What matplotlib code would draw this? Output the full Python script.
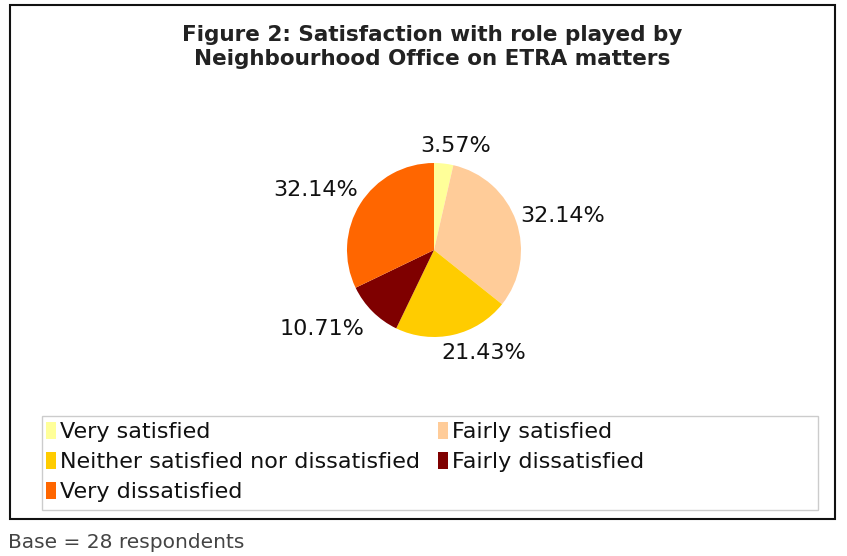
import matplotlib
matplotlib.use("Agg")
import matplotlib.pyplot as plt
from matplotlib.patches import Rectangle, Patch
import numpy as np

categories = ["Very satisfied", "Fairly satisfied", "Neither satisfied nor dissatisfied",
              "Fairly dissatisfied", "Very dissatisfied"]
shares = [3.57, 32.14, 21.43, 10.71, 32.14]
colors = ["#FFFF99", "#FFCC99", "#FFCC00", "#7F0000", "#FF6600"]
title = "Figure 2: Satisfaction with role played by\nNeighbourhood Office on ETRA matters"
base_note = "Base = 28 respondents"

W, H = 847, 556
fig = plt.figure(figsize=(W / 100, H / 100), dpi=100)
ax = fig.add_axes([0, 0, 1, 1])

def yy(y):
    return H - y

# pie
cx, cy, r = 434, yy(250), 87
wedges, _ = ax.pie(shares, colors=colors, startangle=90, counterclock=False,
                   center=(cx, cy), radius=r, frame=True)
ax.set_xlim(0, W)
ax.set_ylim(0, H)
ax.set_aspect("equal")
ax.axis("off")

# outer frame
ax.add_patch(Rectangle((10, yy(519)), 825, 514, fill=False, edgecolor="#111111", lw=1.5))

# title
ax.text(432, yy(47), title, ha="center", va="center", fontsize=15.5, fontweight="bold",
        color="#222222", linespacing=1.22)

# percentage labels: placed outside each wedge, nudged sideways to clear the rim
label_nudge = [(10, 0), (30, 0), (27, -1), (-38, -5), (-30, 4)]
for w, v, (nx, ny) in zip(wedges, shares, label_nudge):
    ang = np.deg2rad((w.theta1 + w.theta2) / 2)
    x = cx + 1.2 * r * np.cos(ang) + nx
    y = cy + 1.2 * r * np.sin(ang) + ny
    ax.text(x, y, f"{v:.2f}%", ha="center", va="center", fontsize=16, color="#111111")

# legend
ax.add_patch(Rectangle((42, yy(510)), 776, 94, fill=False, edgecolor="#cccccc", lw=1))
order = [0, 2, 4, 1, 3]
handles = [Patch(facecolor=colors[i], edgecolor="none", label=categories[i]) for i in order]
leg = ax.legend(handles=handles, ncol=2, loc="upper left",
                bbox_to_anchor=(46 / W, 1 - 422 / H), frameon=False,
                fontsize=16, handlelength=0.45, handleheight=0.8, handletextpad=0.2,
                columnspacing=0.78, labelspacing=0.43, borderaxespad=0, borderpad=0)
for t in leg.get_texts():
    t.set_color("#111111")

fig.text(8 / W, 1 - 543 / H, base_note, ha="left", va="center", fontsize=14.5, color="#444444")

fig.savefig("out.png", dpi=100, facecolor="white")
